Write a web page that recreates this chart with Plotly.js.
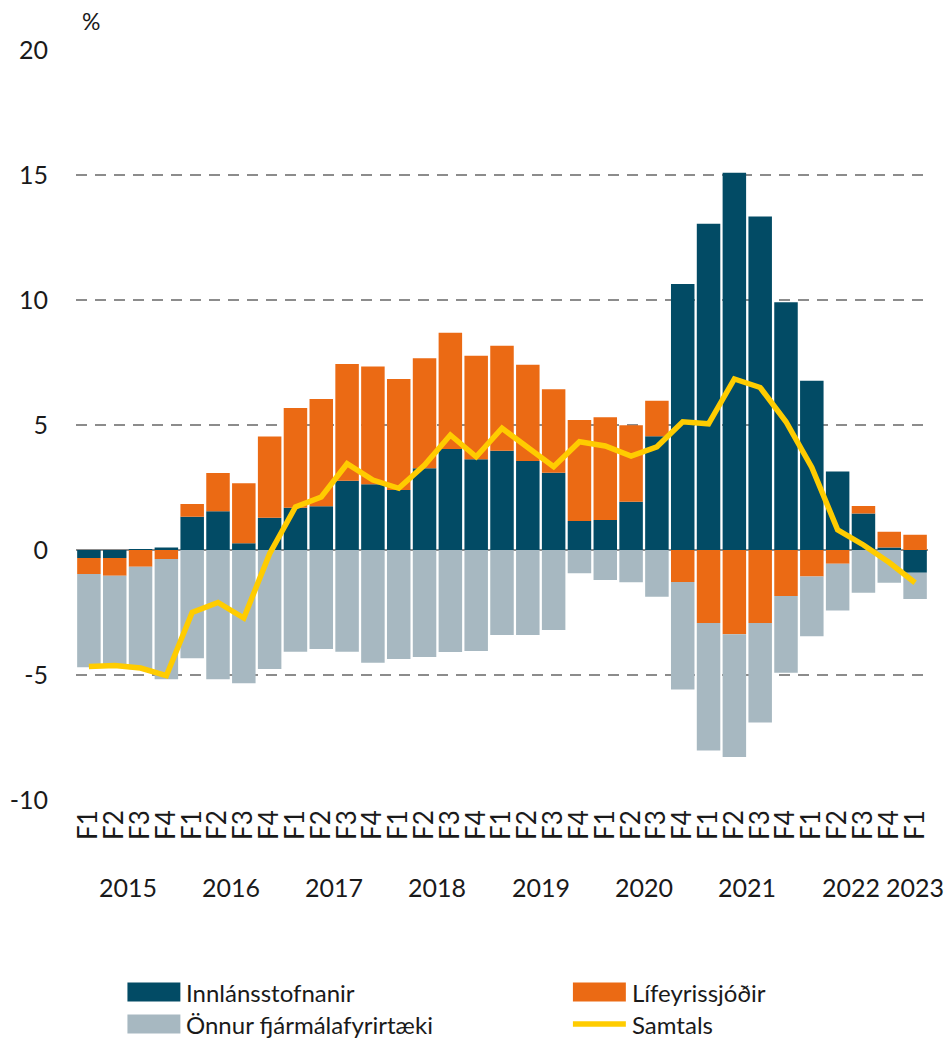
<!DOCTYPE html>
<html>
<head>
<meta charset="utf-8">
<script src="https://cdn.plot.ly/plotly-3.0.1.min.js"></script>
<style>
  html, body { margin: 0; padding: 0; background: #ffffff; }
  #chart { width: 948px; height: 1061px; }
</style>
</head>
<body>
<div id="chart"></div>
<script>
// ---- Data ----
const years = ["2015","2016","2017","2018","2019","2020","2021","2022","2023"];
const quarters = [
  "2015 F1","2015 F2","2015 F3","2015 F4",
  "2016 F1","2016 F2","2016 F3","2016 F4",
  "2017 F1","2017 F2","2017 F3","2017 F4",
  "2018 F1","2018 F2","2018 F3","2018 F4",
  "2019 F1","2019 F2","2019 F3","2019 F4",
  "2020 F1","2020 F2","2020 F3","2020 F4",
  "2021 F1","2021 F2","2021 F3","2021 F4",
  "2022 F1","2022 F2","2022 F3","2022 F4",
  "2023 F1"
];
const quarterLabels = [
  "F1","F2","F3","F4","F1","F2","F3","F4","F1","F2","F3","F4",
  "F1","F2","F3","F4","F1","F2","F3","F4","F1","F2","F3","F4",
  "F1","F2","F3","F4","F1","F2","F3","F4","F1"
];
const innlansstofnanir = [
  -0.32, -0.32, 0.04, 0.10,
  1.33, 1.55, 0.27, 1.29,
  1.69, 1.75, 2.77, 2.63,
  2.40, 3.27, 4.04, 3.63,
  3.97, 3.56, 3.09, 1.16,
  1.20, 1.93, 4.55, 10.64,
  13.05, 15.09, 13.34, 9.91,
  6.77, 3.14, 1.46, 0.10,
  -0.91
];
const lifeyrissjodir = [
  -0.64, -0.71, -0.67, -0.36,
  0.51, 1.53, 2.40, 3.25,
  3.99, 4.29, 4.67, 4.71,
  4.44, 4.40, 4.65, 4.14,
  4.20, 3.85, 3.34, 4.04,
  4.11, 3.06, 1.42, -1.28,
  -2.92, -3.37, -2.92, -1.84,
  -1.06, -0.55, 0.30, 0.63,
  0.61
];
const onnur = [
  -3.73, -3.69, -4.10, -4.81,
  -4.33, -5.17, -5.33, -4.76,
  -4.07, -3.96, -4.07, -4.51,
  -4.36, -4.28, -4.08, -4.04,
  -3.40, -3.40, -3.20, -0.93,
  -1.20, -1.29, -1.87, -4.30,
  -5.10, -4.91, -3.98, -3.07,
  -2.39, -1.87, -1.71, -1.31,
  -1.05
];
const samtals = [
  -4.66, -4.62, -4.72, -5.03,
  -2.50, -2.10, -2.72, -0.15,
  1.72, 2.12, 3.45, 2.80,
  2.47, 3.40, 4.60, 3.73,
  4.87, 4.07, 3.33, 4.33,
  4.16, 3.76, 4.13, 5.13,
  5.05, 6.84, 6.50, 5.13,
  3.30, 0.81, 0.20, -0.50,
  -1.31
];
const yearLabelPos = [1.5, 5.5, 9.5, 13.5, 17.5, 21.5, 25.5, 29.5, 32];
const yTickVals = [-10, -5, 0, 5, 10, 15, 20];
const yTickText = ["-10", "-5", "0", "5", "10", "15", "20"];
const seriesNames = ["Innlánsstofnanir", "Lífeyrissjóðir", "Önnur fjármálafyrirtæki", "Samtals"];

const FONT = "Lato, 'Open Sans', sans-serif";
const TXT = "#1a1a1a";
const colors = {inn: "#024B65", lif: "#EB6A14", onn: "#A7B8C1", sam: "#FFCC00"};

// plot-area geometry (pixels) used to place paper-referenced decorations
const W = 948, H = 1061;
const M = {l: 75.5, r: 19.5, t: 50, b: 261};
const PW = W - M.l - M.r, PH = H - M.t - M.b;
const px = x => (x - M.l) / PW;
const py = y => (H - M.b - y) / PH;

const traces = [
  {type: "bar", name: seriesNames[0], x: quarters, y: innlansstofnanir,
   marker: {color: colors.inn, line: {width: 0}}},
  {type: "bar", name: seriesNames[1], x: quarters, y: lifeyrissjodir,
   marker: {color: colors.lif, line: {width: 0}}},
  {type: "bar", name: seriesNames[2], x: quarters, y: onnur,
   marker: {color: colors.onn, line: {width: 0}}},
  {type: "scatter", mode: "lines", name: seriesNames[3], x: quarters, y: samtals,
   line: {color: colors.sam, width: 5.5}}
];

const annotations = years.map((yr, i) => ({
  text: yr, x: yearLabelPos[i], xref: "x", y: py(887), yref: "paper",
  xanchor: "center", yanchor: "middle", showarrow: false,
  font: {family: FONT, size: 25, color: TXT}
}));
annotations.push({
  text: "%", x: px(91), xref: "paper", y: py(21), yref: "paper",
  xanchor: "center", yanchor: "middle", showarrow: false,
  font: {family: FONT, size: 23, color: TXT}
});

// custom legend (wide swatches like the original)
const legendItems = [
  {name: seriesNames[0], color: colors.inn, kind: "box", x: 127, y: 992},
  {name: seriesNames[1], color: colors.lif, kind: "box", x: 573, y: 992},
  {name: seriesNames[2], color: colors.onn, kind: "box", x: 127, y: 1024},
  {name: seriesNames[3], color: colors.sam, kind: "line", x: 573, y: 1024}
];
const shapes = [];
legendItems.forEach(it => {
  if (it.kind === "box") {
    shapes.push({type: "rect", xref: "paper", yref: "paper",
      x0: px(it.x), x1: px(it.x + 53), y0: py(it.y - 9.5), y1: py(it.y + 9.5),
      fillcolor: it.color, line: {width: 0}});
  } else {
    shapes.push({type: "line", xref: "paper", yref: "paper",
      x0: px(it.x), x1: px(it.x + 53), y0: py(it.y), y1: py(it.y),
      line: {color: it.color, width: 5.5}});
  }
  annotations.push({text: it.name, xref: "paper", yref: "paper",
    x: px(it.x + 58), y: py(it.y), xanchor: "left", yanchor: "middle",
    showarrow: false, borderpad: 0,
    font: {family: FONT, size: 24, color: TXT}});
});

const layout = {
  width: W, height: H,
  margin: {l: M.l, r: M.r, t: M.t, b: M.b, pad: 0},
  paper_bgcolor: "#ffffff", plot_bgcolor: "#ffffff",
  barmode: "relative", bargap: 0.09,
  font: {family: FONT, color: TXT},
  showlegend: false,
  xaxis: {
    type: "category", range: [-0.5, 32.5],
    tickvals: quarters, ticktext: quarterLabels, tickangle: -90,
    tickfont: {family: FONT, size: 26, color: TXT},
    showgrid: false, showline: false, zeroline: false, ticks: "",
    ticklabelstandoff: 4, fixedrange: true
  },
  yaxis: {
    range: [-10, 20], tickvals: yTickVals, ticktext: yTickText,
    tickfont: {family: FONT, size: 25, color: TXT},
    showgrid: true, gridcolor: "#8c8c8c", gridwidth: 2, griddash: "11px,8px",
    zeroline: true, zerolinecolor: "#8c8c8c", zerolinewidth: 1.5,
    showline: false, ticks: "", ticklabelstandoff: 27, fixedrange: true
  },
  shapes: shapes,
  annotations: annotations
};

Plotly.newPlot("chart", traces, layout, {displayModeBar: false, staticPlot: true});
</script>
</body>
</html>
